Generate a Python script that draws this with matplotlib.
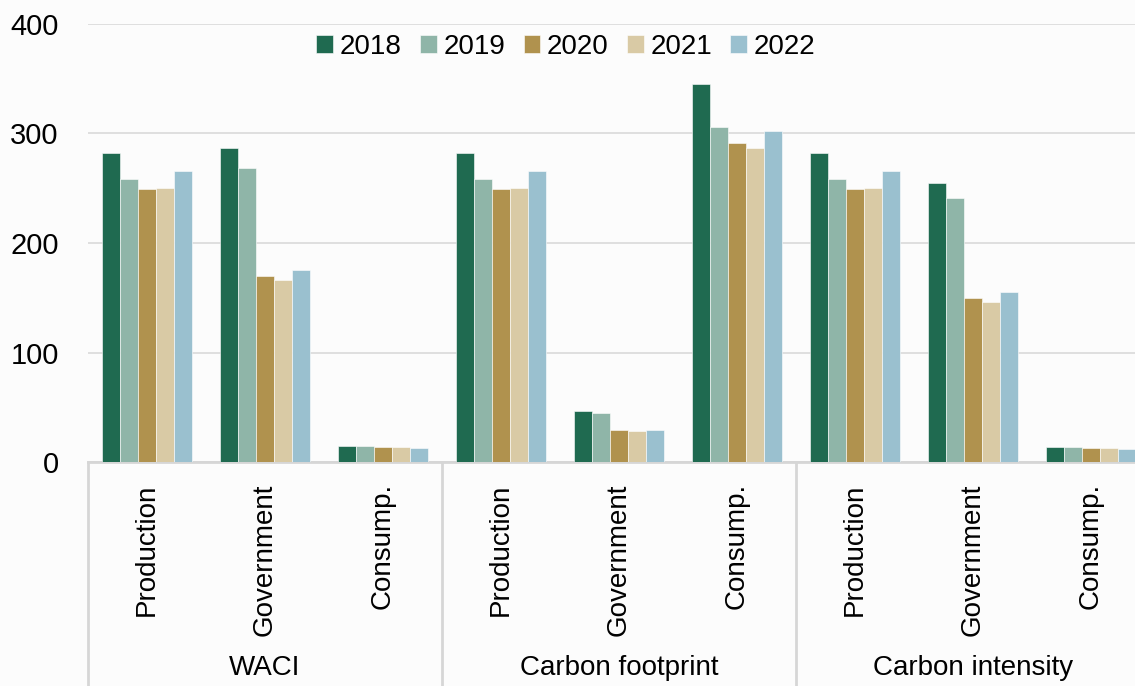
import numpy as np
import matplotlib
matplotlib.use("Agg")
from matplotlib import pyplot as plt

plt.rcParams["font.family"] = ["Liberation Sans Narrow", "Liberation Sans", "DejaVu Sans"]

years = ["2018", "2019", "2020", "2021", "2022"]
colors = ["#1f6a50", "#8fb5a8", "#b0924e", "#d9caa5", "#9ac0cf"]
groups = ["WACI", "Carbon footprint", "Carbon intensity"]
categories = ["Production", "Government", "Consump."] * 3

# one list per year, 9 values: WACI (P, G, C), footprint (P, G, C), intensity (P, G, C)
v2018 = [282, 287, 15, 282, 47, 345, 282, 255, 14]
v2019 = [258, 268, 14.6, 258, 45, 306, 258, 241, 14]
v2020 = [249.5, 170, 14, 249.5, 29.5, 291, 249.5, 149.5, 13.4]
v2021 = [250, 166, 13.7, 250, 28.5, 287, 250, 146, 12.8]
v2022 = [266, 175, 13.2, 266, 29.5, 302, 266, 155, 12]
series = [v2018, v2019, v2020, v2021, v2022]

W, H = 1135, 686
fig = plt.figure(figsize=(W / 100, H / 100), dpi=100)
fig.patch.set_facecolor("#fcfcfc")

# plot area: y=0 at 462px, y=400 at 24px, slots of 118px starting at x=88
x0, y0, ytop, slot = 88, 462.3, 23.7, 118
ax = fig.add_axes([x0 / W, 1 - y0 / H, 9 * slot / W, (y0 - ytop) / H])
ax.set_facecolor("#fcfcfc")

x = np.arange(9) + 0.5
bw = 0.153
for j, (yr, vals, c) in enumerate(zip(years, series, colors)):
    ax.bar(x + (j - 2) * bw, vals, width=bw, color=c, edgecolor="white",
           linewidth=0.4, label=yr, zorder=3)

ax.set_xlim(0, 9)
ax.set_ylim(0, 400)
ax.set_yticks([0, 100, 200, 300, 400])
ax.grid(axis="y", color="#dcdcdc", linewidth=1.3, zorder=0)
for s in ["top", "right", "left"]:
    ax.spines[s].set_visible(False)
ax.spines["bottom"].set_color("#d6d6d6")
ax.spines["bottom"].set_linewidth(2)
ax.tick_params(axis="y", length=0, pad=21, labelsize=21)
ax.tick_params(axis="x", length=0)
ax.set_xticks([])

# category and group labels below the axis
trans = ax.get_xaxis_transform()
px = 1 / (y0 - ytop)
for xi, cat in zip(x, categories):
    ax.text(xi, -21 * px, cat, rotation=90, ha="center", va="top",
            fontsize=20, transform=trans)
for g, name in enumerate(groups):
    ax.text(3 * g + 1.5, -206 * px, name, ha="center", va="center",
            fontsize=20, transform=trans)
for xs in [0, 3, 6, 9]:
    ax.plot([xs, xs], [0, -(H - y0) * px], color="#d6d6d6", linewidth=2,
            transform=trans, clip_on=False)

ax.legend(loc="center", bbox_to_anchor=((566 - x0) / (9 * slot), 1 - (46.7 - ytop) * px),
          ncol=5, frameon=False, fontsize=20, handlelength=0.6, handleheight=0.6,
          handletextpad=0.25, columnspacing=0.65)

fig.savefig("out.png", dpi=100, facecolor=fig.get_facecolor())
